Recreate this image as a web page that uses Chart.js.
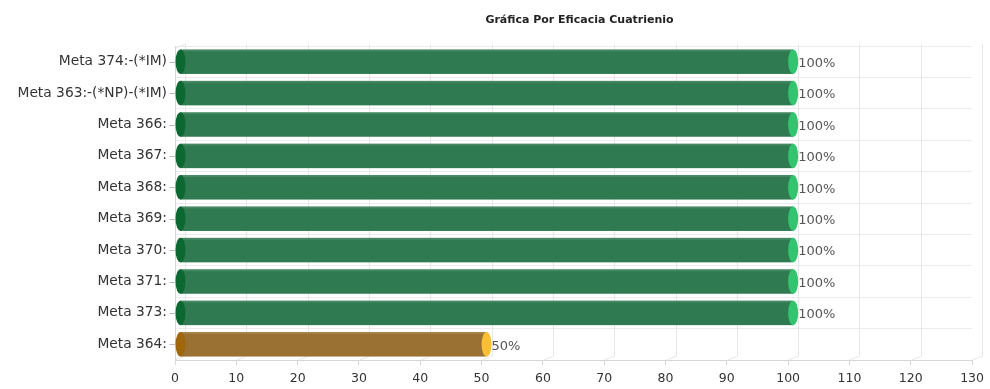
<!DOCTYPE html>
<html>
<head>
<meta charset="utf-8">
<script src="https://cdn.jsdelivr.net/npm/chart.js@4.4.1/dist/chart.umd.min.js"></script>
<style>
  html, body { margin: 0; padding: 0; background: #fff; }
  #wrap { width: 990px; height: 389px; }
</style>
</head>
<body>
<div id="wrap"><canvas id="chart"></canvas></div>
<script>
const title = 'Gráfica Por Eficacia Cuatrienio';
const labels = [
  'Meta 374:-(*IM)', 'Meta 363:-(*NP)-(*IM)', 'Meta 366:', 'Meta 367:', 'Meta 368:',
  'Meta 369:', 'Meta 370:', 'Meta 371:', 'Meta 373:', 'Meta 364:'
];
const values = [100, 100, 100, 100, 100, 100, 100, 100, 100, 50];
const xTicks = [0, 10, 20, 30, 40, 50, 60, 70, 80, 90, 100, 110, 120, 130];

// body / left cap / right cap per bar
const bodyColors = values.map(v => v >= 100 ? '#2f7a50' : '#9a7133');
const leftCapColors = values.map(v => v >= 100 ? '#0b6830' : '#a0660c');
const rightCapColors = values.map(v => v >= 100 ? '#33c46f' : '#fbbf34');

const DEPTH = 10; // 3d depth shift of the back wall
const SHIFT = 5;  // cylinders sit halfway in the depth

const backGrid = {
  id: 'backGrid',
  beforeDatasetsDraw(chart) {
    const { ctx, chartArea } = chart;
    const xs = chart.scales.x;
    ctx.save();
    ctx.strokeStyle = '#e6e6e6';
    ctx.lineWidth = 1;
    xTicks.forEach(v => {
      const x = Math.round(xs.getPixelForValue(v)) + 0.5;
      ctx.beginPath();
      ctx.moveTo(x, chartArea.bottom);
      ctx.lineTo(x + DEPTH, chartArea.bottom - 4);
      ctx.lineTo(x + DEPTH, chartArea.top - 2);
      ctx.stroke();
    });
    // top depth edge on the left
    ctx.beginPath();
    ctx.moveTo(chartArea.left + 0.5, chartArea.top + 2);
    ctx.lineTo(chartArea.left + DEPTH + 0.5, chartArea.top - 2);
    ctx.stroke();
    ctx.restore();
  }
};

const cylinders = {
  id: 'cylinders',
  afterDatasetsDraw(chart) {
    const { ctx } = chart;
    const meta = chart.getDatasetMeta(0);
    meta.data.forEach((bar, i) => {
      const h = bar.height;
      const rx = 5;
      const x0 = bar.base + SHIFT;
      const x1 = bar.x + SHIFT;
      const top = bar.y - h / 2;
      ctx.save();
      // body
      ctx.fillStyle = bodyColors[i];
      ctx.fillRect(x0, top, x1 - x0, h);
      ctx.fillStyle = 'rgba(255,255,255,0.10)';
      ctx.fillRect(x0, top, x1 - x0, 2);
      // left cap
      ctx.fillStyle = leftCapColors[i];
      ctx.beginPath();
      ctx.ellipse(x0, bar.y, rx, h / 2, 0, 0, Math.PI * 2);
      ctx.fill();
      // right cap
      ctx.fillStyle = rightCapColors[i];
      ctx.beginPath();
      ctx.ellipse(x1, bar.y, rx, h / 2, 0, 0, Math.PI * 2);
      ctx.fill();
      // value label
      ctx.font = '13px "DejaVu Sans", sans-serif';
      ctx.fillStyle = '#555';
      ctx.textAlign = 'left';
      ctx.textBaseline = 'middle';
      ctx.fillText(values[i] + '%', x1 + rx, bar.y + 2);
      // y tick mark
      ctx.strokeStyle = '#bbb';
      ctx.beginPath();
      ctx.moveTo(bar.base - 6, Math.round(bar.y) + 0.5);
      ctx.lineTo(bar.base, Math.round(bar.y) + 0.5);
      ctx.stroke();
      ctx.restore();
    });
    // title over the plot
    const ca = chart.chartArea;
    ctx.save();
    ctx.font = 'bold 11px "DejaVu Sans", sans-serif';
    ctx.fillStyle = '#222';
    ctx.textAlign = 'center';
    ctx.textBaseline = 'middle';
    ctx.fillText(title, (ca.left + ca.right) / 2 + 6, 20);
    ctx.restore();
  }
};

new Chart(document.getElementById('chart'), {
  type: 'bar',
  data: {
    labels: labels,
    datasets: [{
      data: values,
      backgroundColor: 'rgba(0,0,0,0)',
      borderWidth: 0,
      barPercentage: 0.78,
      categoryPercentage: 1
    }]
  },
  options: {
    indexAxis: 'y',
    responsive: true,
    maintainAspectRatio: false,
    animation: false,
    layout: { padding: { top: 46, right: 14, bottom: 0, left: 0 } },
    plugins: {
      legend: { display: false },
      tooltip: { enabled: false },
      title: { display: false }
    },
    scales: {
      x: {
        min: 0,
        max: 130,
        afterBuildTicks(scale) { scale.ticks = xTicks.map(v => ({ value: v })); },
        grid: { color: '#d6d6d6', tickLength: 5, drawOnChartArea: false },
        border: { color: '#d6d6d6' },
        ticks: {
          color: '#333',
          font: { family: '"DejaVu Sans", sans-serif', size: 12.5 },
          padding: 6
        },
        afterFit(scale) { scale.height = 29; }
      },
      y: {
        grid: { color: '#ececec', drawTicks: false },
        border: { color: '#d6d6d6' },
        ticks: {
          color: '#333',
          font: { family: '"DejaVu Sans", sans-serif', size: 13.8 },
          padding: 8
        },
        afterFit(scale) { scale.width = 175; }
      }
    }
  },
  plugins: [backGrid, cylinders]
});
</script>
</body>
</html>
